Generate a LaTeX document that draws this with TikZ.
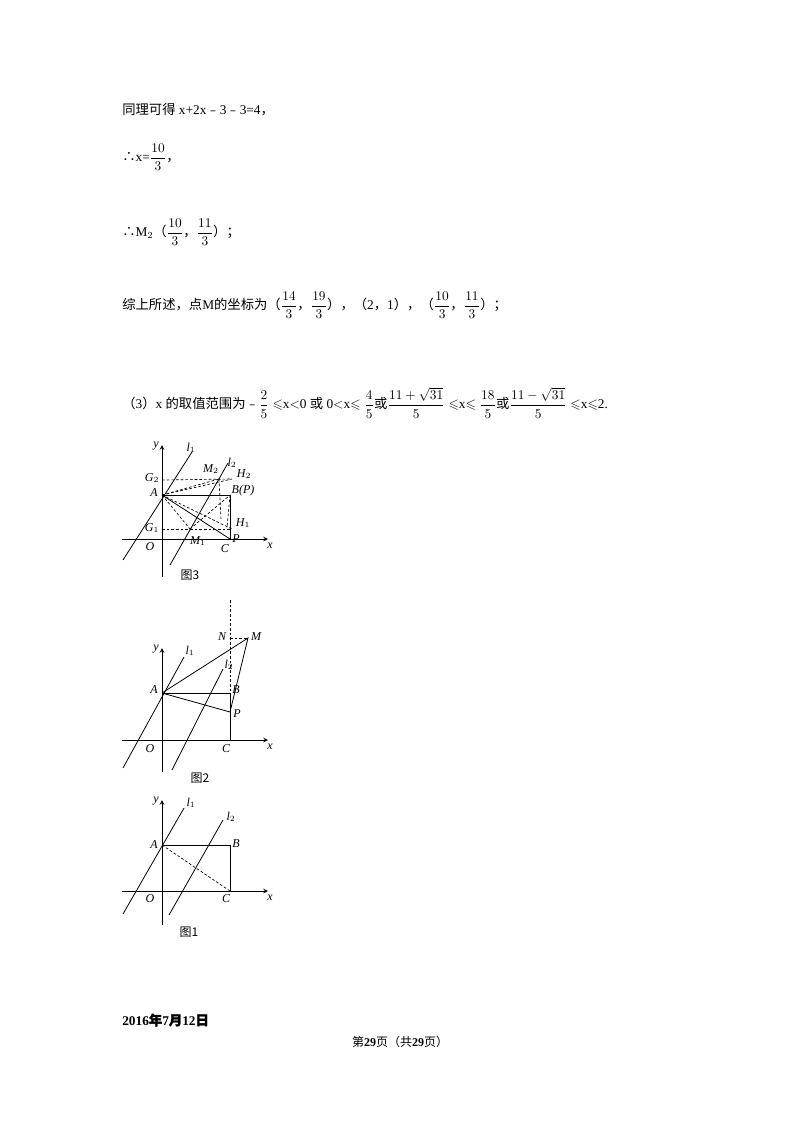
\documentclass[tikz,border=0pt]{standalone}
\usepackage{amsmath,amssymb}
\usepackage{fontspec}
\setmainfont{Liberation Serif}
\newfontfamily\cjk{Noto Sans CJK SC}
\newfontfamily\cjkb[FakeBold=2]{Noto Sans CJK SC}
\begin{document}
\begin{tikzpicture}[x=0.75pt,y=-0.75pt,
  txt/.style={anchor=west,inner sep=0pt,font=\fontsize{10}{12}\selectfont},
  lab/.style={inner sep=0pt,font=\fontsize{9}{10}\selectfont\itshape},
  figcap/.style={inner sep=0pt,font=\fontsize{9}{10}\selectfont\cjk},
  ln/.style={line width=0.6pt},
  dl/.style={line width=0.5pt,dashed,dash pattern=on 2pt off 1.5pt},
  ax/.style={line width=0.6pt,-stealth}]
\useasboundingbox (0,0) rectangle (800,1132);
% text
\node[txt] (t1) at (122,110) {{\cjk 同理可得} x+2x{\cjk ﹣}3{\cjk ﹣}3=4{\cjk ，}};
\node[txt] (t2) at (122,157) {{\cjk ∴}x=$\dfrac{10}{3}${\cjk ，}};
\node[txt] (t3) at (122,232) {{\cjk ∴}M$_2${\cjk （}$\dfrac{10}{3}${\cjk ，}$\dfrac{11}{3}${\cjk ）；}};
\node[txt] (t4) at (122,305) {{\cjk 综上所述，点}M{\cjk 的坐标为（}$\dfrac{14}{3}${\cjk ，}$\dfrac{19}{3}${\cjk ），（}2{\cjk ，}1{\cjk ），（}$\dfrac{10}{3}${\cjk ，}$\dfrac{11}{3}${\cjk ）；}};
\node[txt] (t5) at (122,403) {{\cjk （}3{\cjk ）}x {\cjk 的取值范围为﹣}$\dfrac{2}{5}\leqslant$x$<$0 {\cjk 或} 0$<$x$\leqslant\dfrac{4}{5}${\cjk 或}$\dfrac{11+\sqrt{31}}{5}\leqslant$x$\leqslant\dfrac{18}{5}${\cjk 或}$\dfrac{11-\sqrt{31}}{5}\leqslant$x$\leqslant$2.};
\node[txt,font=\fontsize{10}{12}\selectfont\bfseries] (d) at (122,1020) {2016{\cjkb 年}7{\cjkb 月}12{\cjkb 日}};
\node[inner sep=0pt,font=\fontsize{9}{11}\selectfont] (pg) at (400,1042) {{\cjk 第}\textbf{29}{\cjk 页（共}\textbf{29}{\cjk 页）}};

% ---------- Figure 3 ----------
\coordinate (O3) at (162,539); \coordinate (C3) at (230,539);
\coordinate (B3) at (230,495); \coordinate (A3) at (162,495);
\coordinate (G23) at (162,480); \coordinate (H23) at (232,479);
\coordinate (G13) at (162,529); \coordinate (H13) at (232,529);
\coordinate (M23) at (219,479); \coordinate (M13) at (190,529);
\coordinate (xa3) at (122,539); \coordinate (xb3) at (268,539);
\coordinate (ya3) at (162,577); \coordinate (yb3) at (162,445);
\coordinate (l1a3) at (123,560); \coordinate (l1b3) at (192,452);
\coordinate (l2a3) at (170,565); \coordinate (l2b3) at (228,463);
\draw[ax] (xa3) -- (xb3); \draw[ax] (ya3) -- (yb3);
\draw[ln] (l1a3) -- (l1b3); \draw[ln] (l2a3) -- (l2b3);
\draw[ln] (O3) -- (C3) -- (B3) -- (A3); \draw[ln] (A3) -- (C3);
\draw[dl] (G23) -- (H23); \draw[dl] (G13) -- (H13);
\draw[dl] (A3) -- (M23); \draw[dl] (A3) -- (H23);
\draw[dl] (A3) -- (M13); \draw[dl] (A3) -- (H13);
\draw[dl] (M13) -- (B3); \draw[dl] (B3) -- (227,528);
\draw[dl] (M23) -- (221,520);
\node[lab] at (156,446) {y}; \node[lab] at (270,546) {x};
\node[lab] at (150,547) {O}; \node[lab] at (225,549) {C};
\node[lab] at (154,493) {A}; \node[lab] at (152,478) {G$_2$};
\node[lab] at (152,528) {G$_1$}; \node[lab] at (243,491) {B(P)};
\node[lab] at (244,474) {H$_2$}; \node[lab] at (243,523) {H$_1$};
\node[lab] at (236,539) {P}; \node[lab] at (211,469) {M$_2$};
\node[lab] at (198,541) {M$_1$};
\node[lab] at (191,448) {l$_1$}; \node[lab] at (232,463) {l$_2$};
\node[figcap] at (190,575) {图3};

% ---------- Figure 2 ----------
\coordinate (O2) at (162,740); \coordinate (C2) at (230,740);
\coordinate (B2) at (230,693); \coordinate (A2) at (162,693);
\coordinate (P2) at (230,712); \coordinate (N2) at (230,638);
\coordinate (M2) at (248,638); \coordinate (T2) at (230,600);
\coordinate (xa2) at (122,740); \coordinate (xb2) at (268,740);
\coordinate (ya2) at (162,772); \coordinate (yb2) at (162,648);
\draw[ax] (xa2) -- (xb2); \draw[ax] (ya2) -- (yb2);
\draw[ln] (123,768) -- (184,657); \draw[ln] (172,770) -- (223,669);
\draw[ln] (O2) -- (C2) -- (B2) -- (A2);
\draw[dl] (T2) -- (B2); \draw[dl] (N2) -- (M2);
\draw[ln] (A2) -- (M2) -- (P2) -- (A2);
\node[lab] at (156,649) {y}; \node[lab] at (270,747) {x};
\node[lab] at (150,749) {O}; \node[lab] at (226,749) {C};
\node[lab] at (154,690) {A}; \node[lab] at (236,690) {B};
\node[lab] at (237,714) {P}; \node[lab] at (222,637) {N};
\node[lab] at (256,637) {M};
\node[lab] at (190,651) {l$_1$}; \node[lab] at (229,665) {l$_2$};
\node[figcap] at (200,778) {图2};

% ---------- Figure 1 ----------
\coordinate (O1) at (162,891); \coordinate (C1) at (230,891);
\coordinate (B1) at (230,845); \coordinate (A1) at (162,845);
\draw[ax] (122,891) -- (268,891); \draw[ax] (162,925) -- (162,800);
\draw[ln] (123,914) -- (184,808); \draw[ln] (169,915) -- (223,820);
\draw[ln] (O1) -- (C1) -- (B1); \draw[line width=0.4pt] (B1) -- (A1);
\draw[dl] (A1) -- (C1);
\node[lab] at (156,801) {y}; \node[lab] at (270,898) {x};
\node[lab] at (150,899) {O}; \node[lab] at (226,899) {C};
\node[lab] at (154,845) {A}; \node[lab] at (236,844) {B};
\node[lab] at (191,803) {l$_1$}; \node[lab] at (231,817) {l$_2$};
\node[figcap] at (189,932) {图1};
\end{tikzpicture}
\end{document}
